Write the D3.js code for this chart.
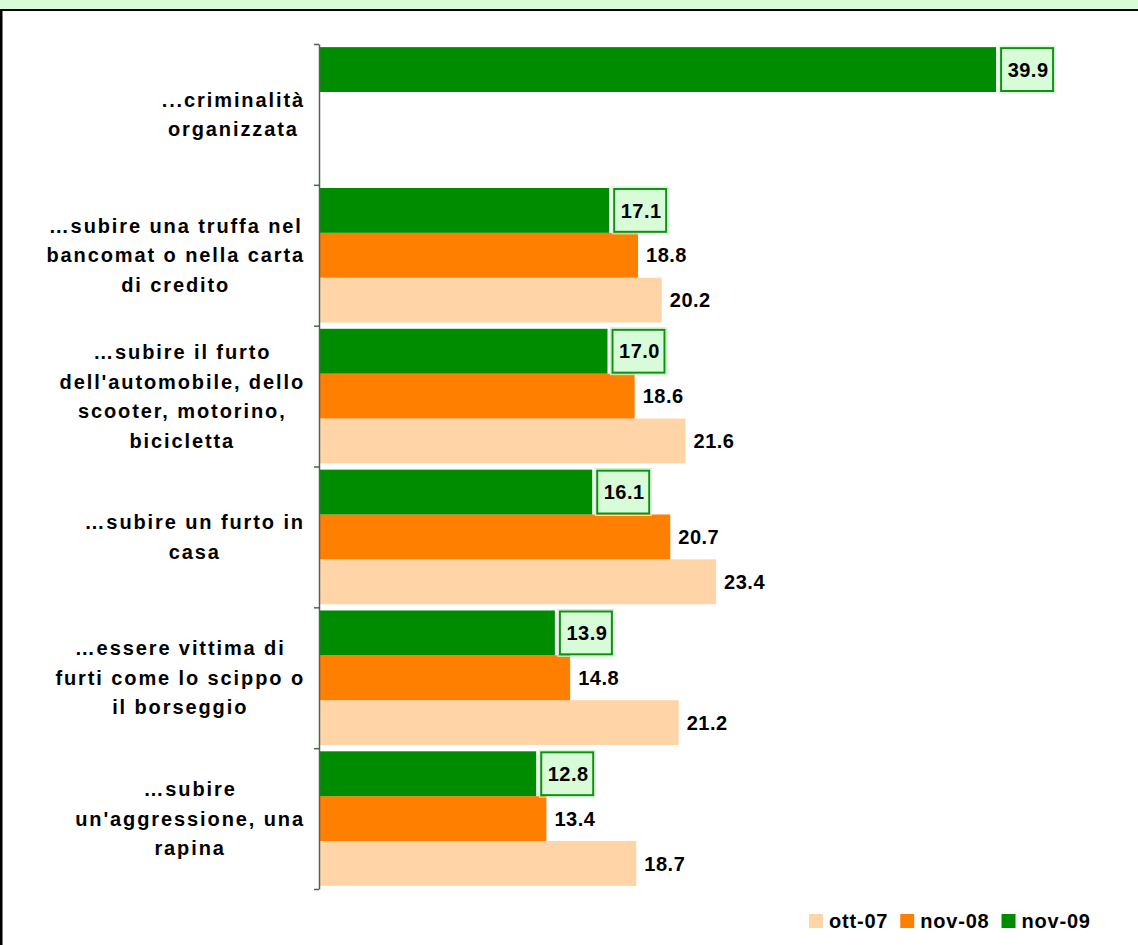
<!DOCTYPE html>
<html>
<head>
<meta charset="utf-8">
<script src="https://cdn.jsdelivr.net/npm/d3@7"></script>
<style>
  html, body { margin: 0; padding: 0; background: #fff; }
  svg { display: block; font-family: "Liberation Sans", Arial, sans-serif; font-weight: bold; }
</style>
</head>
<body>
<div id="chart"></div>
<script>
var categories = [
    ["...criminalità", "organizzata"],
    ["…subire una truffa nel", "bancomat o nella carta", "di credito"],
    ["…subire il furto", "dell'automobile, dello", "scooter, motorino,", "bicicletta"],
    ["…subire un furto in", "casa"],
    ["…essere vittima di", "furti come lo scippo o", "il borseggio"],
    ["…subire", "un'aggressione, una", "rapina"]
];
var seriesNames = ["ott-07", "nov-08", "nov-09"];
var ott07 = [null, 20.2, 21.6, 23.4, 21.2, 18.7];
var nov08 = [null, 18.8, 18.6, 20.7, 14.8, 13.4];
var nov09 = [39.9, 17.1, 17.0, 16.1, 13.9, 12.8];

var colors = {"ott-07": "#ffd5a8", "nov-08": "#ff7f00", "nov-09": "#008c00"};
var values = {"ott-07": ott07, "nov-08": nov08, "nov-09": nov09};

var W = 1138, H = 945;
var svg = d3.select("#chart").append("svg")
    .attr("width", W)
    .attr("height", H);

// frame: light green strip on top, black rules
svg.append("rect").attr("x", 0).attr("y", 0).attr("width", W).attr("height", 9).attr("fill", "#d8fcd8");
svg.append("line").attr("x1", 0).attr("x2", W).attr("y1", 10).attr("y2", 10)
    .attr("stroke", "#000").attr("stroke-width", 2);
svg.append("line").attr("x1", 1).attr("x2", 1).attr("y1", 9).attr("y2", H)
    .attr("stroke", "#000").attr("stroke-width", 3);

var x0 = 319, yTop = 44, yBottom = 889;
var x = d3.scaleLinear().domain([0, 40]).range([x0, 997.8]);
var y = d3.scaleBand().domain(d3.range(categories.length)).range([yTop, yBottom]).padding(0);
var inner = d3.scaleBand().domain(["nov-09", "nov-08", "ott-07"])
    .range([0, y.bandwidth()]).paddingInner(0).paddingOuter(0.07);

// bars, drawn bottom series first so upper bars sit on top
["ott-07", "nov-08", "nov-09"].forEach(function(s) {
    var rows = values[s].map(function(v, i) { return {i: i, v: v}; })
        .filter(function(d) { return d.v != null; });
    svg.append("g").selectAll("rect")
        .data(rows)
        .enter().append("rect")
        .attr("x", x(0))
        .attr("y", function(d) { return y(d.i) + inner(s); })
        .attr("width", function(d) { return x(d.v) - x(0); })
        .attr("height", inner.bandwidth())
        .attr("fill", colors[s]);
});

// axis with ticks on category boundaries
var yb = d3.scaleLinear().domain([0, categories.length]).range([yTop, yBottom]);
var axis = svg.append("g")
    .attr("transform", "translate(" + x0 + ",0)")
    .call(d3.axisLeft(yb).tickValues(d3.range(categories.length + 1)).tickFormat("").tickSize(5).tickSizeOuter(0));
axis.selectAll("path, line").attr("stroke", "#4f634f").attr("stroke-width", 1.5);

// value labels
["nov-08", "ott-07"].forEach(function(s) {
    values[s].forEach(function(v, i) {
        if (v == null) return;
        svg.append("text")
            .attr("x", x(v) + 8)
            .attr("y", y(i) + inner(s) + inner.bandwidth() / 2)
            .attr("dy", "0.36em")
            .attr("font-size", 20)
            .attr("letter-spacing", 0.5)
            .text(v.toFixed(1));
    });
});
nov09.forEach(function(v, i) {
    var by = y(i) + inner("nov-09");
    var g = svg.append("g");
    var bx = x(v) + 4;
    g.append("rect")
        .attr("x", bx - 1).attr("y", by - 1)
        .attr("width", 56).attr("height", inner.bandwidth() + 2)
        .attr("fill", "none").attr("stroke", "#c8f4c8").attr("stroke-width", 1);
    g.append("rect")
        .attr("x", bx + 1).attr("y", by + 1)
        .attr("width", 52).attr("height", inner.bandwidth() - 2)
        .attr("fill", "#d8fcd8").attr("stroke", "#109010").attr("stroke-width", 2);
    g.append("text")
        .attr("x", bx + 28)
        .attr("y", by + inner.bandwidth() / 2)
        .attr("dy", "0.36em")
        .attr("text-anchor", "middle")
        .attr("font-size", 20)
        .attr("letter-spacing", 0.5)
        .text(v.toFixed(1));
});

// category labels: block right-aligned to the axis, lines centred in it
var lineH = 29.5;
categories.forEach(function(lines, i) {
    var g = svg.append("g");
    var texts = lines.map(function(t) {
        return g.append("text")
            .attr("font-size", 20)
            .attr("letter-spacing", 1.9)
            .attr("text-anchor", "middle")
            .text(t);
    });
    var wmax = d3.max(texts, function(t) { return t.node().getComputedTextLength(); });
    var cx = 305 - wmax / 2;
    var cy = y(i) + y.bandwidth() / 2;
    texts.forEach(function(t, k) {
        t.attr("x", cx)
         .attr("y", cy + (k - (lines.length - 1) / 2) * lineH)
         .attr("dy", "0.36em");
    });
});

// legend
var lg = svg.append("g");
var lx = 809;
seriesNames.forEach(function(s) {
    lg.append("rect").attr("x", lx).attr("y", 914).attr("width", 14).attr("height", 14).attr("fill", colors[s]);
    var t = lg.append("text").attr("x", lx + 20).attr("y", 928)
        .attr("font-size", 20).attr("letter-spacing", 0.8).text(s);
    lx += 20 + t.node().getComputedTextLength() + 12;
});
</script>
</body>
</html>
